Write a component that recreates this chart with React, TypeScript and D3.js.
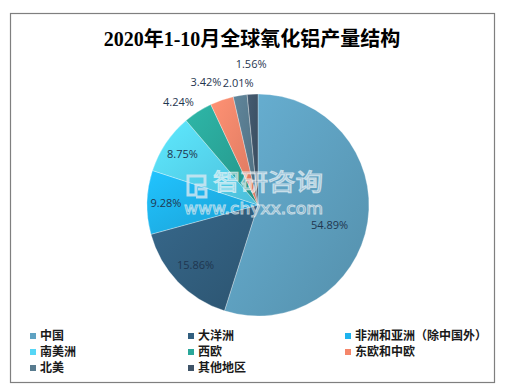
import React from 'react';
import * as d3 from 'd3';

// chart data
const regions = ['中国', '大洋洲', '非洲和亚洲（除中国外）', '南美洲', '西欧', '东欧和中欧', '北美', '其他地区'];
const shares = [54.89, 15.86, 9.28, 8.75, 4.24, 3.42, 2.01, 1.56];
const colors = ['#5fa2c2', '#325f7f', '#1eb3ee', '#56d6f6', '#2aa79a', '#f5866a', '#587b8f', '#3f5468'];
// where each label sits: share of the radius, and a small turn in degrees
const labelRadius = [0.67, 0.78, 0.83, 0.82, 1.17, 1.2, 1.11, 1.27];
const labelTurn = [7, 0, 0, 0, -5, -4, 0, 0];

const width = 507;
const height = 392;
const cx = 258;
const cy = 205;
const r = 111;

const App = () => {
  const pie = d3.pie<number>().sort(null).value(d => d);
  const arcs = pie(shares);
  const arc = d3.arc<d3.PieArcDatum<number>>().innerRadius(0).outerRadius(r);

  const labelPos = (d: d3.PieArcDatum<number>, i: number) => {
    const a = (d.startAngle + d.endAngle) / 2 + (labelTurn[i] * Math.PI) / 180;
    const rr = r * labelRadius[i];
    return [cx + rr * Math.sin(a), cy - rr * Math.cos(a)];
  };

  // legend in 3 columns
  const legendX = [30, 188, 345];
  const legendY = [336, 352, 368];

  return (
    <svg width={width} height={height} style={{ position: 'absolute', left: 0, top: 0 }}>
      <defs>
        {colors.map((c, i) => (
          <linearGradient key={i} id={'g' + i} x1="0" y1="0" x2="1" y2="1">
            <stop offset="0%" stopColor={d3.color(c)!.brighter(0.25).toString()} />
            <stop offset="100%" stopColor={d3.color(c)!.darker(0.35).toString()} />
          </linearGradient>
        ))}
      </defs>
      <rect x={0} y={0} width={width} height={height} fill="#fff" />
      <rect x={10.5} y={13.5} width={484} height={369} fill="#fff" stroke="#7f7f7f" strokeWidth={1.2} />

      <text x={252} y={46} textAnchor="middle" fontSize={20} fontWeight="bold" fontFamily="'Liberation Serif', 'Noto Sans CJK SC', serif" fill="#000">
        2020年1-10月全球氧化铝产量结构
      </text>

      <g transform={`translate(${cx},${cy})`}>
        {arcs.map((d, i) => (
          <path key={i} d={arc(d) || ''} fill={`url(#g${i})`} stroke="#ffffff" strokeOpacity={0.5} strokeWidth={0.6} />
        ))}
      </g>

      {/* watermark */}
      <g opacity={0.8}>
        <g fill="none" stroke="#d8e8f2" strokeWidth={3}>
          <path d="M188,176 h17 v9 h-9 v10 h-8 z" />
          <path d="M198,189 h8 v8 h-10" />
        </g>
        <text x={213} y={190} textLength={110} lengthAdjust="spacingAndGlyphs" fontSize={23} fontFamily="'Noto Sans CJK SC', sans-serif" fill="#a8c8dc" fillOpacity={0.6} stroke="#ffffff" strokeWidth={1.2} strokeOpacity={0.8}>
          智研咨询
        </text>
        <text x={184} y={214} textLength={139} lengthAdjust="spacingAndGlyphs" fontSize={16} fontFamily="'DejaVu Sans', sans-serif" fill="#3a6f8e" fillOpacity={0.45} stroke="#ffffff" strokeWidth={1} strokeOpacity={0.8}>
          www.chyxx.com
        </text>
      </g>

      {arcs.map((d, i) => {
        const [x, y] = labelPos(d, i);
        return (
          <text key={i} x={x} y={y} dy="0.35em" textAnchor="middle" fontSize={11} fontFamily="'Open Sans', 'DejaVu Sans', sans-serif" fill="#1f3650">
            {shares[i].toFixed(2)}%
          </text>
        );
      })}

      {regions.map((name, i) => {
        const x = legendX[i % 3];
        const y = legendY[Math.floor(i / 3)];
        return (
          <g key={name}>
            <rect x={x} y={y - 3} width={6} height={6} fill={colors[i]} />
            <text x={x + 10} y={y} dy="0.36em" fontSize={12} fontWeight="bold" fontFamily="'Noto Sans CJK SC', sans-serif" fill="#1a1a1a">
              {name}
            </text>
          </g>
        );
      })}
    </svg>
  );
};

export default App;
